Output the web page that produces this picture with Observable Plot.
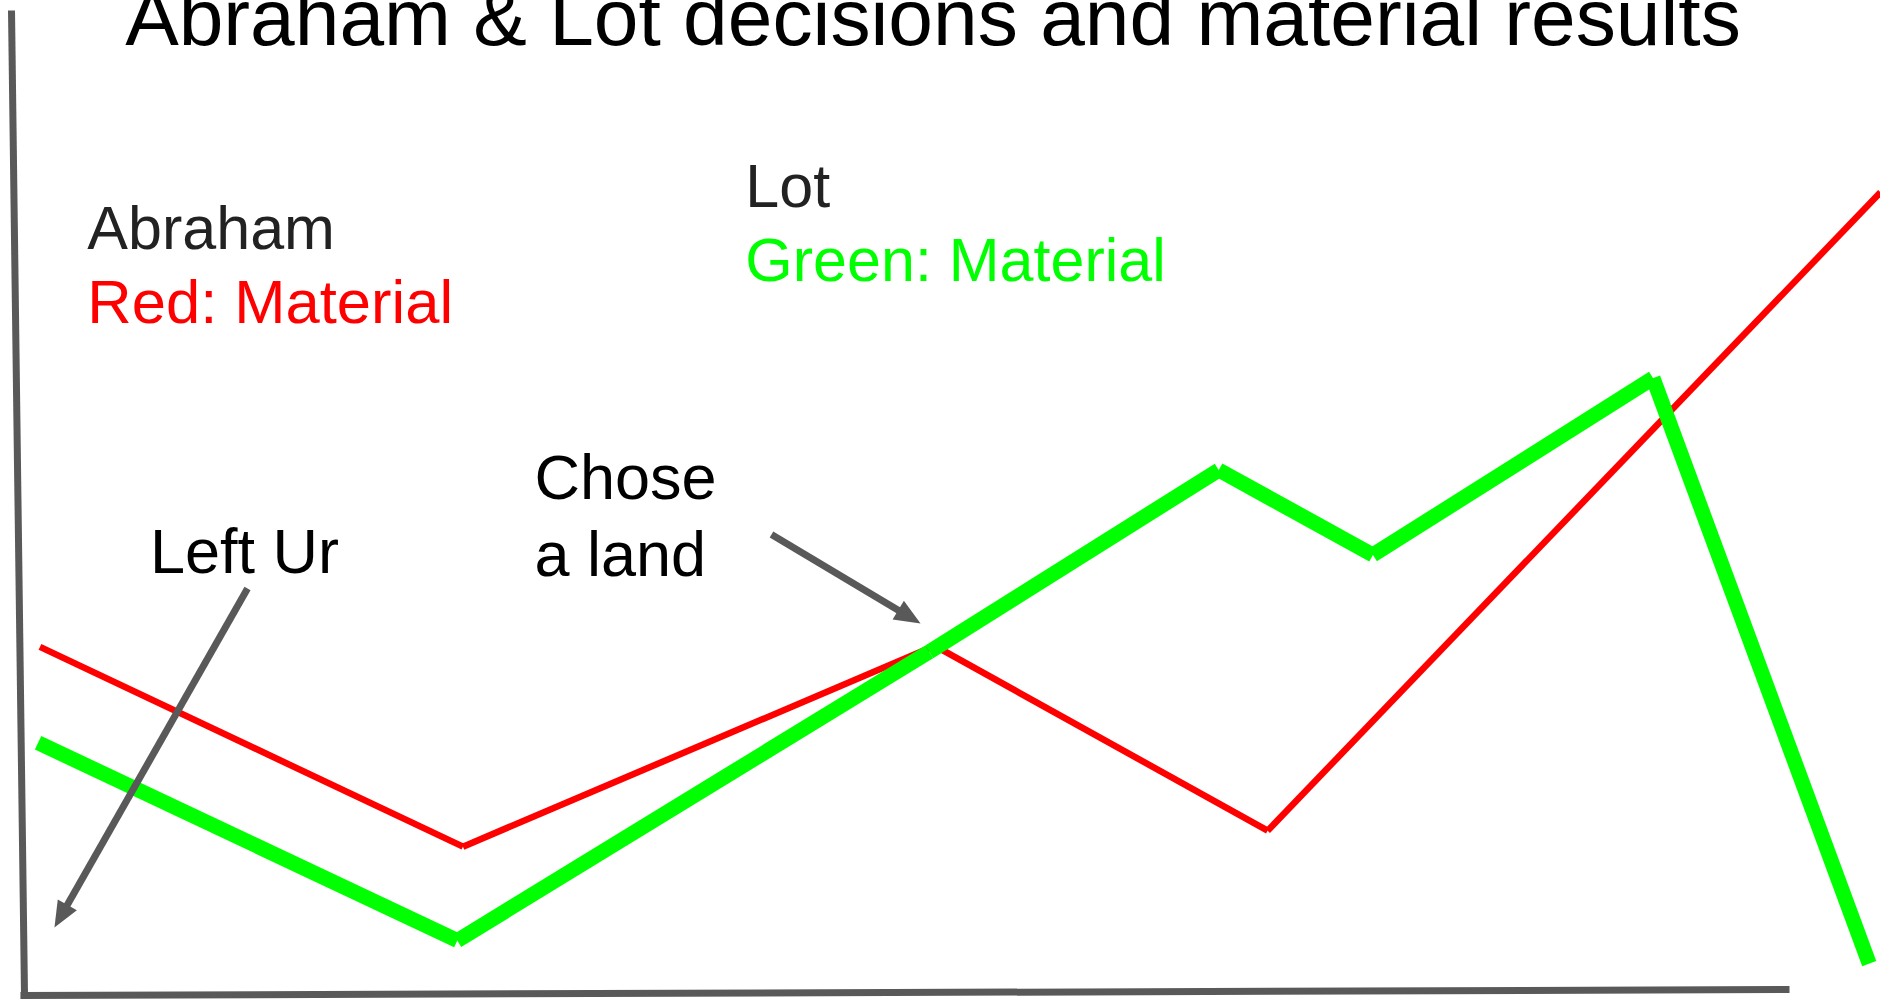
<!DOCTYPE html>
<html><head><meta charset="utf-8">
<script src="https://cdn.jsdelivr.net/npm/d3@7"></script>
<script src="https://cdn.jsdelivr.net/npm/@observablehq/plot@0.6"></script>
<style>html,body{margin:0;padding:0;background:#fff;overflow:hidden}</style>
</head><body><div id="chart"></div>
<script>
// ---- data (stage 0..100 along x, material level 0..100 along y) ----
const stageDomain = [0, 100];
const materialDomain = [0, 100];

const abrahamStage = [2.1, 24.6, 49.7, 67.4, 100];
const abrahamMaterial = [35.3, 15.3, 35.4, 16.9, 80.8];

const lotStage = [2.0, 24.3, 49.4, 64.8, 73.0, 87.9, 99.4];
const lotMaterial = [25.7, 5.9, 34.8, 53.0, 44.5, 62.2, 3.6];

// hand-drawn axes (start/end in data units)
const axisX1 = [0.585, 1.06];
const axisY1 = [99.0, 0.4];
const axisX2 = [1.28, 95.16];
const axisY2 = [0.0, 1.0];

// annotation arrows (start -> tip)
const arrowX1 = [13.14, 41.01];
const arrowY1 = [41.14, 46.55];
const arrowX2 = [2.87, 48.94];
const arrowY2 = [7.21, 37.64];

// texts
const titleText = "Abraham & Lot decisions and material results";
const titleX = 49.6, titleY = 95.5;
const abrahamName = "Abraham", abrahamKey = "Red: Material";
const lotName = "Lot", lotKey = "Green: Material";
const abrahamLabelX = 4.62, abrahamNameY = 75.08, abrahamKeyY = 67.67;
const lotLabelX = 39.62, lotNameY = 79.28, lotKeyY = 71.97;
const noteTexts = ["Left Ur", "Chose\na land"];
const noteX = [7.95, 28.4];
const noteY = [42.74, 42.44];

// ---- build ----
const W = 1880, H = 999;
const xs = d3.scaleLinear(stageDomain, [0, W]);
const ys = d3.scaleLinear(materialDomain, [H, 0]);

function segments(sx, sy) {
  return d3.pairs(d3.zip(sx, sy)).map(([a, b]) => ({x1: a[0], y1: a[1], x2: b[0], y2: b[1]}));
}
const abrahamSegs = segments(abrahamStage, abrahamMaterial);
const lotSegs = segments(lotStage, lotMaterial);
const axes = axisX1.map((_, i) => ({x1: axisX1[i], y1: axisY1[i], x2: axisX2[i], y2: axisY2[i]}));

const HEAD = 26;
const arrows = arrowX1.map((_, i) => {
  const sx = xs(arrowX1[i]), sy = ys(arrowY1[i]), tx = xs(arrowX2[i]), ty = ys(arrowY2[i]);
  const d = Math.hypot(tx - sx, ty - sy);
  const ux = (tx - sx) / d, uy = (ty - sy) / d;
  return {
    x1: arrowX1[i], y1: arrowY1[i],
    bx: xs.invert(tx - ux * (HEAD - 3)), by: ys.invert(ty - uy * (HEAD - 3)),
    tx: arrowX2[i], ty: arrowY2[i],
    angle: Math.atan2(ux, -uy) * 180 / Math.PI
  };
});
const arrowHead = {
  draw(ctx) { ctx.moveTo(0, 0); ctx.lineTo(-11, HEAD); ctx.lineTo(11, HEAD); ctx.closePath(); }
};

const gray = "#595959";
const chart = Plot.plot({
  width: W, height: H, margin: 0,
  x: {domain: stageDomain, axis: null},
  y: {domain: materialDomain, axis: null},
  style: {fontFamily: "'Liberation Sans', Arial, sans-serif", background: "#fff"},
  marks: [
    Plot.link(axes, {x1: "x1", y1: "y1", x2: "x2", y2: "y2", stroke: gray, strokeWidth: 7, strokeLinecap: "butt"}),
    Plot.link(abrahamSegs, {x1: "x1", y1: "y1", x2: "x2", y2: "y2", stroke: "#ff0000", strokeWidth: 6.5, strokeLinecap: "butt"}),
    Plot.link(lotSegs, {x1: "x1", y1: "y1", x2: "x2", y2: "y2", stroke: "#00ff00", strokeWidth: 15, strokeLinecap: "butt"}),
    Plot.link(arrows, {x1: "x1", y1: "y1", x2: "bx", y2: "by", stroke: gray, strokeWidth: 7, strokeLinecap: "butt"}),
    Plot.dot(arrows, {x: "tx", y: "ty", rotate: "angle", symbol: arrowHead, fill: gray, stroke: "none", r: 5}),
    Plot.text([titleText], {x: [titleX], y: [titleY], text: d => d, fontSize: 80.3, textAnchor: "middle", lineAnchor: "bottom", fill: "#000"}),
    Plot.text([abrahamName], {x: [abrahamLabelX], y: [abrahamNameY], text: d => d, fontSize: 61, textAnchor: "start", lineAnchor: "bottom", fill: "#222"}),
    Plot.text([abrahamKey], {x: [abrahamLabelX], y: [abrahamKeyY], text: d => d, fontSize: 61.5, textAnchor: "start", lineAnchor: "bottom", fill: "#ff0000"}),
    Plot.text([lotName], {x: [lotLabelX], y: [lotNameY], text: d => d, fontSize: 61, textAnchor: "start", lineAnchor: "bottom", fill: "#222"}),
    Plot.text([lotKey], {x: [lotLabelX], y: [lotKeyY], text: d => d, fontSize: 61, textAnchor: "start", lineAnchor: "bottom", fill: "#00ff00"}),
    Plot.text(noteTexts, {x: noteX, y: noteY, text: d => d, fontSize: 63, lineHeight: 1.22, textAnchor: "start", lineAnchor: "bottom", fill: "#000"})
  ]
});
document.getElementById("chart").appendChild(chart);
</script>
</body></html>
